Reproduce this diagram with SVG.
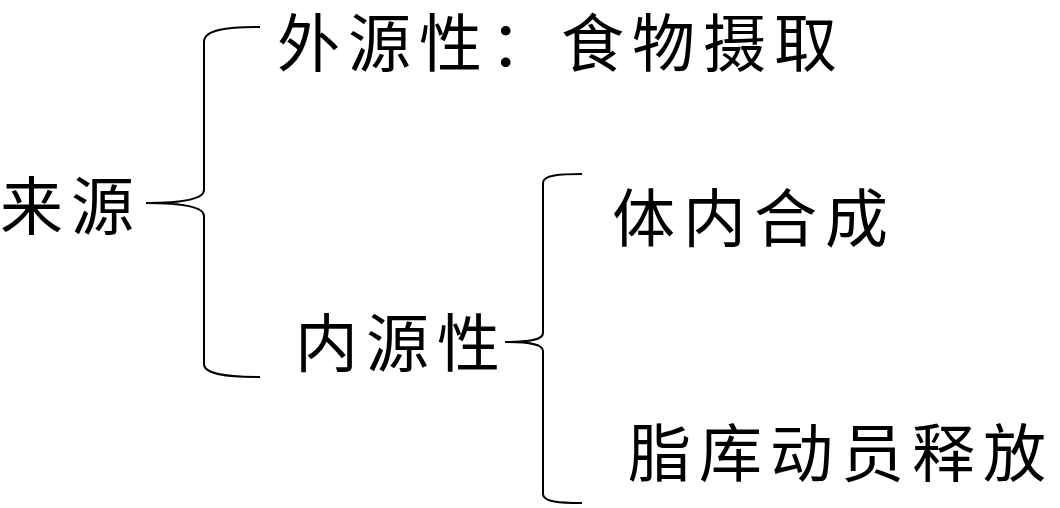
<svg xmlns="http://www.w3.org/2000/svg" width="1060" height="508" viewBox="0 0 1060 508">
<style>
text{font-family:"Noto Sans CJK SC","Noto Sans CJK JP",sans-serif;font-size:63px;fill:#000;letter-spacing:8px}
.br{fill:none;stroke:#000;stroke-width:2}
</style>
<rect width="1060" height="508" fill="#fff"/>
<g id="connectors">
<path class="br" d="M260,27 C225,27 204,30 204,42 L204,190 C204,200 180,203 146,203 C180,203 204,206 204,216 L204,364 C204,374 225,377 260,377"/>
<path class="br" d="M582,174 C560,174 543,175 543,183 L543,333 C543,340 530,342 505,342 C530,342 543,344 543,351 L543,494 C543,502 560,503 582,503"/>
</g>
<g id="n-laiyuan"><text x="0" y="229">来源</text></g>
<g id="n-waiyuan"><text x="277" y="66">外源性：食物摄取</text></g>
<g id="n-neiyuan"><text x="295" y="366">内源性</text></g>
<g id="n-tinei"><text x="612" y="241">体内合成</text></g>
<g id="n-zhiku"><text x="628" y="476">脂库动员释放</text></g>
</svg>
